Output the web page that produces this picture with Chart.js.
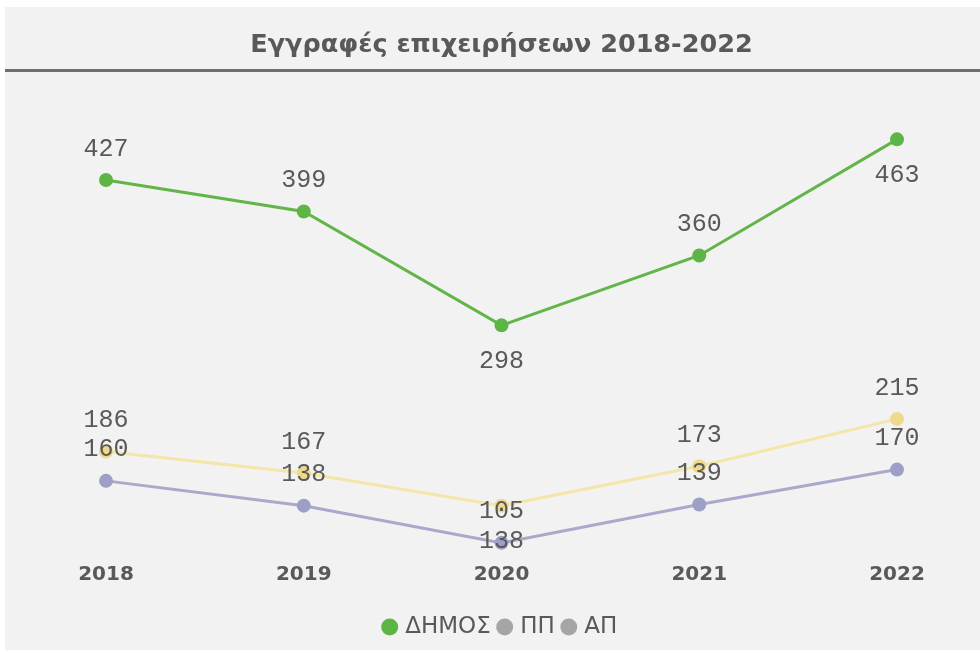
<!DOCTYPE html>
<html><head><meta charset="utf-8">
<script src="https://cdn.jsdelivr.net/npm/chart.js@4.4.1/dist/chart.umd.min.js"></script>
<style>html,body{margin:0;padding:0;background:#fff}canvas{display:block}</style>
</head><body>
<canvas id="c" width="980" height="653"></canvas>
<script>
const years = ['2018', '2019', '2020', '2021', '2022'];
const seriesNames = ['ΔΗΜΟΣ', 'ΠΠ', 'ΑΠ'];
const dimos = [427, 399, 298, 360, 463];
const pp = [186, 167, 138, 173, 215];
const ap = [160, 138, 105, 139, 170];
const titleText = 'Εγγραφές επιχειρήσεων 2018-2022';
// value label side: 1 = above the point, -1 = below
const dimosLabelSide = [1, 1, -1, 1, -1];
const ppLabelSide = [1, 1, -1, 1, 1];
const apLabelSide = [1, 1, 1, 1, 1];

const lineColors = ['#63b54a', '#f3e6a8', '#a8a9cb'];
const pointColors = ['#5db546', '#efd98d', '#9d9fc6'];
const legendColors = ['#5db546', '#a5a5a5', '#a5a5a5'];

const frame = {
  id: 'frame',
  beforeDraw(chart) {
    const ctx = chart.ctx;
    ctx.save();
    ctx.fillStyle = '#ffffff';
    ctx.fillRect(0, 0, chart.width, chart.height);
    ctx.fillStyle = '#f2f2f2';
    ctx.fillRect(5, 7, chart.width - 5, chart.height - 10);
    ctx.fillStyle = '#6f6f6f';
    ctx.fillRect(5, 69, chart.width - 5, 3);
    ctx.restore();
  }
};

const valueLabels = {
  id: 'valueLabels',
  afterDatasetsDraw(chart) {
    const ctx = chart.ctx;
    ctx.save();
    ctx.font = '25px "Liberation Mono"';
    ctx.fillStyle = '#595959';
    ctx.textAlign = 'center';
    ctx.textBaseline = 'middle';
    chart.data.datasets.forEach((ds, i) => {
      const meta = chart.getDatasetMeta(i);
      meta.data.forEach((pt, j) => {
        const side = ds.labelSide[j];
        const y = side > 0 ? pt.y - 31 : pt.y + 36;
        ctx.fillText(String(ds.data[j]), pt.x, y);
      });
    });
    ctx.restore();
  }
};

const sides = [dimosLabelSide, ppLabelSide, apLabelSide];
const values = [dimos, pp, ap];
const datasets = seriesNames.map((name, i) => ({
  label: name,
  data: values[i],
  labelSide: sides[i],
  borderColor: lineColors[i],
  backgroundColor: pointColors[i],
  pointBackgroundColor: pointColors[i],
  pointBorderColor: pointColors[i],
  pointBorderWidth: 0,
  pointRadius: 7,
  borderWidth: 3,
  tension: 0,
  fill: false
}));

new Chart(document.getElementById('c'), {
  type: 'line',
  data: { labels: years, datasets },
  plugins: [frame, valueLabels],
  options: {
    responsive: false,
    animation: false,
    devicePixelRatio: 1,
    layout: { padding: { left: 106, right: 83, top: 0, bottom: 4.5 } },
    plugins: {
      title: {
        display: true, text: titleText, color: '#595959',
        font: { family: '"DejaVu Sans"', size: 25.5, weight: 'bold' },
        padding: { top: 30, bottom: 38.2 }
      },
      legend: {
        position: 'bottom',
        labels: {
          usePointStyle: true, boxWidth: 8, boxHeight: 12, padding: 10,
          color: '#595959',
          font: { family: '"DejaVu Sans"', size: 23 },
          generateLabels(chart) {
            return chart.data.datasets.map((ds, i) => ({
              text: ds.label, fillStyle: legendColors[i], strokeStyle: legendColors[i],
              lineWidth: 0, pointStyle: 'circle', hidden: false, datasetIndex: i, fontColor: '#595959'
            }));
          }
        }
      },
      tooltip: { enabled: false }
    },
    scales: {
      x: {
        offset: false,
        grid: { display: false, drawTicks: false },
        border: { display: false },
        ticks: { color: '#595959', padding: 10, font: { family: '"DejaVu Sans"', size: 20, weight: 'bold' } },
        afterFit(s) { s.height = 52.5; }
      },
      y: { display: false, min: 96, max: 499 }
    }
  }
});
</script>
</body></html>
